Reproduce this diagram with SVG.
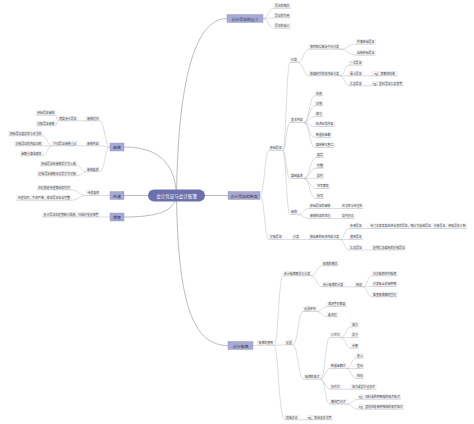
<svg xmlns="http://www.w3.org/2000/svg" width="474" height="424" viewBox="0 0 474 424">
<style>
.c{fill:#f5f5f7;stroke:#e1e1e6;stroke-width:.3}
.u{stroke:#b9b9c2;stroke-width:.5;fill:none}
text{font-family:"Noto Sans CJK SC","Noto Sans",sans-serif;text-anchor:middle;dominant-baseline:central}
.t{font-size:2.9px;fill:#444}
.m{fill:#a7a9d3;stroke:#8f92c2;stroke-width:.4}
.mt{font-size:3.9px;fill:#2d2d4a}
#conn path{fill:none;stroke:#b9b9c2;stroke-width:.5}
#conn path.k{stroke:#a9a9b8;stroke-width:.8}
</style>
<rect width="474" height="424" fill="#fff"/>
<g id="conn">
<path class="k" d="M176.5 195.5C178 80 195 18.5 227 18.5"/>
<path class="k" d="M176.5 195.5L228 195.5"/>
<path class="k" d="M176.5 195.5C178 310 195 345.5 228 345.5"/>
<path class="k" d="M176.5 195.5C175 160 155 147 124 147"/>
<path class="k" d="M176.5 195.5L124 195.5"/>
<path class="k" d="M176.5 195.5C175 212 155 217 124 217"/>
<path d="M263 18.5C268.5 18.5 268.5 8.3 274 8.3M263 18.5C268.5 18.5 268.5 17.9 274 17.9M263 18.5C268.5 18.5 268.5 28.3 274 28.3"/>
<path d="M260 195.5C264.5 195.5 264.5 150.5 269 150.5M260 195.5C264.5 195.5 264.5 239.5 269 239.5"/>
<path d="M282.6 150.5C286.3 150.5 286.3 62.5 290 62.5M282.6 150.5C286.3 150.5 286.3 122.5 290 122.5M282.6 150.5C286.3 150.5 286.3 178.5 290 178.5M282.6 150.5C286.3 150.5 286.3 214.5 290 214.5"/>
<path d="M297.8 62.5C303.4 62.5 303.4 49.2 309 49.2M297.8 62.5C303.4 62.5 303.4 75.8 309 75.8"/>
<path d="M340 49.2C348 49.2 348 44.2 356 44.2M340 49.2C348 49.2 348 55.2 356 55.2"/>
<path d="M340 75.8C344.5 75.8 344.5 65.2 349 65.2M340 75.8L349 75.8M340 75.8C344.5 75.8 344.5 85.8 349 85.8M362.6 75.8L372 75.8M362.6 85.8L372 85.8"/>
<path d="M303.6 122.5C309.3 122.5 309.3 95.8 315 95.8M303.6 122.5C309.3 122.5 309.3 105.8 315 105.8M303.6 122.5C309.3 122.5 309.3 116.5 315 116.5M303.6 122.5C309.3 122.5 309.3 126.5 315 126.5M303.6 122.5C309.3 122.5 309.3 137.5 315 137.5M303.6 122.5C309.3 122.5 309.3 147.5 315 147.5"/>
<path d="M303.6 178.5C309.8 178.5 309.8 157.5 316 157.5M303.6 178.5C309.8 178.5 309.8 168.2 316 168.2M303.6 178.5C309.8 178.5 309.8 178.2 316 178.2M303.6 178.5C309.8 178.5 309.8 188.5 316 188.5M303.6 178.5C309.8 178.5 309.8 198.5 316 198.5"/>
<path d="M297.8 214.5C303.4 214.5 303.4 208.5 309 208.5M297.8 214.5C303.4 214.5 303.4 218.5 309 218.5M331.3 208.5L341 208.5M331.3 218.5L341 218.5"/>
<path d="M282.6 239.5L292 239.5M299.8 239.5L309 239.5M340 239.5C344.5 239.5 344.5 228.5 349 228.5M340 239.5L349 239.5M340 239.5C344.5 239.5 344.5 250 349 250M362.6 228.5L369 228.5M362.6 250L372 250"/>
<path d="M253 345.5L257.5 345.3M274 345.3C278.5 345.3 278.5 275.8 283 275.8M274 345.3C278.5 345.3 278.5 344.8 285 344.8M274 345.3C278.5 345.3 278.5 419.8 285 419.8"/>
<path d="M311.1 275.8C316.5 275.8 316.5 265.8 322 265.8M311.1 275.8C316.5 275.8 316.5 286.8 322 286.8M344.3 286.8L355 286.8M362.8 286.8C367.4 286.8 367.4 275.8 372 275.8M362.8 286.8C367.4 286.8 367.4 286.5 372 286.5M362.8 286.8C367.4 286.8 367.4 296.8 372 296.8"/>
<path d="M292.8 344.8C298 344.8 298 311.5 303 311.5M292.8 344.8C298 344.8 298 379.2 304 379.2M316.6 311.5C321.8 311.5 321.8 306.5 327 306.5M316.6 311.5C321.8 311.5 321.8 316.8 327 316.8"/>
<path d="M320.5 379.2C325.2 379.2 325.2 337.5 330 337.5M320.5 379.2C325.2 379.2 325.2 368.5 330 368.5M320.5 379.2C325.2 379.2 325.2 389.2 330 389.2M320.5 379.2C325.2 379.2 325.2 404.2 330 404.2"/>
<path d="M340.7 337.5C345.8 337.5 345.8 326.8 351 326.8M340.7 337.5L351 337.5M340.7 337.5C345.8 337.5 345.8 348.2 351 348.2M346.5 368.5C351.2 368.5 351.2 358.2 356 358.2M346.5 368.5L356 368.5M346.5 368.5C351.2 368.5 351.2 378.5 356 378.5M340.7 389.2L351 389.2M346.5 404.2C352.2 404.2 352.2 399.2 358 399.2M346.5 404.2C352.2 404.2 352.2 409.2 358 409.2M298.6 419.8L307 419.8"/>
<path d="M110 147C104.8 147 104.8 120.8 99.6 120.8M110 147C104.8 147 104.8 145.8 99.6 145.8M110 147C104.8 147 104.8 171.8 99.6 171.8M86 120.8L77.5 120.8M58.1 120.8C56.8 120.8 56.8 115.2 55.5 115.2M58.1 120.8C56.8 120.8 56.8 125.8 55.5 125.8"/>
<path d="M86 145.8L77.5 145.8M52.3 145.8C47.4 145.8 47.4 135.8 42.5 135.8M52.3 145.8L42.5 145.8M52.3 145.8C47.4 145.8 47.4 155.8 42.5 155.8M86 171.8C81.5 171.8 81.5 165.8 77 165.8M86 171.8C81.5 171.8 81.5 175.8 77 175.8"/>
<path d="M110 195.5L100 195.5M86.4 195.5C78.7 195.5 78.7 189.8 71 189.8M86.4 195.5C78.7 195.5 78.7 200.2 71 200.2M110 217L99.6 217"/>
</g>
<g id="center"><rect x="148" y="189.5" width="57" height="12" rx="6" fill="#6c70ae"/><text x="176.5" y="195.5" font-size="4.5" fill="#fff">会计凭证与会计账簿</text></g>
<g id="m1"><rect class="m" x="227" y="14.5" width="36" height="8"/><text class="mt" x="245" y="18.5">会计凭证的含义</text></g>
<g id="m2"><rect class="m" x="228" y="191.5" width="32" height="8"/><text class="mt" x="244" y="195.5">会计凭证的种类</text></g>
<g id="m3"><rect class="m" x="228" y="341.5" width="25" height="8"/><text class="mt" x="240.5" y="345.5">会计账簿</text></g>
<g id="l1"><rect class="m" x="110" y="143" width="14" height="8"/><text class="mt" x="117" y="147">审核</text></g>
<g id="l2"><rect class="m" x="110" y="191.5" width="14" height="8"/><text class="mt" x="117" y="195.5">传递</text></g>
<g id="l3"><rect class="m" x="110" y="213" width="14" height="8"/><text class="mt" x="117" y="217">保管</text></g>
<g id="t1"><rect class="c" x="274" y="3.7" width="16.5" height="4.6"/><path class="u" d="M274 8.3h16.5"/><text class="t" x="282.25" y="6">凭证的概念</text></g>
<g id="t2"><rect class="c" x="274" y="13.3" width="16.5" height="4.6"/><path class="u" d="M274 17.9h16.5"/><text class="t" x="282.25" y="15.6">凭证的作用</text></g>
<g id="t3"><rect class="c" x="274" y="23.7" width="16.5" height="4.6"/><path class="u" d="M274 28.3h16.5"/><text class="t" x="282.25" y="26">凭证的意义</text></g>
<g id="a"><rect class="c" x="269" y="145.9" width="13.6" height="4.6"/><path class="u" d="M269 150.5h13.6"/><text class="t" x="275.8" y="148.2">原始凭证</text></g>
<g id="b"><rect class="c" x="269" y="234.9" width="13.6" height="4.6"/><path class="u" d="M269 239.5h13.6"/><text class="t" x="275.8" y="237.2">记账凭证</text></g>
<g id="a1"><rect class="c" x="290" y="57.9" width="7.8" height="4.6"/><path class="u" d="M290 62.5h7.8"/><text class="t" x="293.9" y="60.2">分类</text></g>
<g id="a2"><rect class="c" x="290" y="117.9" width="13.6" height="4.6"/><path class="u" d="M290 122.5h13.6"/><text class="t" x="296.8" y="120.2">基本内容</text></g>
<g id="a3"><rect class="c" x="290" y="173.9" width="13.6" height="4.6"/><path class="u" d="M290 178.5h13.6"/><text class="t" x="296.8" y="176.2">填制要求</text></g>
<g id="a4"><rect class="c" x="290" y="209.9" width="7.8" height="4.6"/><path class="u" d="M290 214.5h7.8"/><text class="t" x="293.9" y="212.2">审核</text></g>
<g id="a1a"><rect class="c" x="309" y="44.6" width="31" height="4.6"/><path class="u" d="M309 49.2h31"/><text class="t" x="324.5" y="46.9">按照取得来源不同分类</text></g>
<g id="a1b"><rect class="c" x="309" y="71.2" width="31" height="4.6"/><path class="u" d="M309 75.8h31"/><text class="t" x="324.5" y="73.5">按填制手续和内容分类</text></g>
<g id="a1a1"><rect class="c" x="356" y="39.6" width="19.4" height="4.6"/><path class="u" d="M356 44.2h19.4"/><text class="t" x="365.7" y="41.9">外来原始凭证</text></g>
<g id="a1a2"><rect class="c" x="356" y="50.6" width="19.4" height="4.6"/><path class="u" d="M356 55.2h19.4"/><text class="t" x="365.7" y="52.9">自制原始凭证</text></g>
<g id="a1b1"><rect class="c" x="349" y="60.6" width="13.6" height="4.6"/><path class="u" d="M349 65.2h13.6"/><text class="t" x="355.8" y="62.9">一次凭证</text></g>
<g id="a1b2"><rect class="c" x="349" y="71.2" width="13.6" height="4.6"/><path class="u" d="M349 75.8h13.6"/><text class="t" x="355.8" y="73.5">累计凭证</text></g>
<g id="a1b2a"><rect class="c" x="372" y="71.2" width="25.5" height="4.6"/><path class="u" d="M372 75.8h25.5"/><text class="t" x="384.75" y="73.5">eg：限额领料单</text></g>
<g id="a1b3"><rect class="c" x="349" y="81.2" width="13.6" height="4.6"/><path class="u" d="M349 85.8h13.6"/><text class="t" x="355.8" y="83.5">汇总凭证</text></g>
<g id="a1b3a"><rect class="c" x="372" y="81.2" width="31.3" height="4.6"/><path class="u" d="M372 85.8h31.3"/><text class="t" x="387.65" y="83.5">eg：发料凭证汇总表等</text></g>
<g id="a2a"><rect class="c" x="315" y="91.2" width="7.8" height="4.6"/><path class="u" d="M315 95.8h7.8"/><text class="t" x="318.9" y="93.5">名称</text></g>
<g id="a2b"><rect class="c" x="315" y="101.2" width="7.8" height="4.6"/><path class="u" d="M315 105.8h7.8"/><text class="t" x="318.9" y="103.5">日期</text></g>
<g id="a2c"><rect class="c" x="315" y="111.9" width="7.8" height="4.6"/><path class="u" d="M315 116.5h7.8"/><text class="t" x="318.9" y="114.2">编号</text></g>
<g id="a2d"><rect class="c" x="315" y="121.9" width="19.4" height="4.6"/><path class="u" d="M315 126.5h19.4"/><text class="t" x="324.7" y="124.2">经济业务内容</text></g>
<g id="a2e"><rect class="c" x="315" y="132.9" width="16.5" height="4.6"/><path class="u" d="M315 137.5h16.5"/><text class="t" x="323.25" y="135.2">数量和金额</text></g>
<g id="a2f"><rect class="c" x="315" y="142.9" width="19.4" height="4.6"/><path class="u" d="M315 147.5h19.4"/><text class="t" x="324.7" y="145.2">填制单位签章</text></g>
<g id="a3a"><rect class="c" x="316" y="152.9" width="7.8" height="4.6"/><path class="u" d="M316 157.5h7.8"/><text class="t" x="319.9" y="155.2">真实</text></g>
<g id="a3b"><rect class="c" x="316" y="163.6" width="7.8" height="4.6"/><path class="u" d="M316 168.2h7.8"/><text class="t" x="319.9" y="165.9">完整</text></g>
<g id="a3c"><rect class="c" x="316" y="173.6" width="7.8" height="4.6"/><path class="u" d="M316 178.2h7.8"/><text class="t" x="319.9" y="175.9">及时</text></g>
<g id="a3d"><rect class="c" x="316" y="183.9" width="13.6" height="4.6"/><path class="u" d="M316 188.5h13.6"/><text class="t" x="322.8" y="186.2">书写清楚</text></g>
<g id="a3e"><rect class="c" x="316" y="193.9" width="7.8" height="4.6"/><path class="u" d="M316 198.5h7.8"/><text class="t" x="319.9" y="196.2">规范</text></g>
<g id="a4a"><rect class="c" x="309" y="203.9" width="22.3" height="4.6"/><path class="u" d="M309 208.5h22.3"/><text class="t" x="320.15" y="206.2">原始凭证的审核</text></g>
<g id="a4a1"><rect class="c" x="341" y="203.9" width="22.3" height="4.6"/><path class="u" d="M341 208.5h22.3"/><text class="t" x="352.15" y="206.2">合法性与合理性</text></g>
<g id="a4b"><rect class="c" x="309" y="213.9" width="22.3" height="4.6"/><path class="u" d="M309 218.5h22.3"/><text class="t" x="320.15" y="216.2">审核结果的处理</text></g>
<g id="a4b1"><rect class="c" x="341" y="213.9" width="13.6" height="4.6"/><path class="u" d="M341 218.5h13.6"/><text class="t" x="347.8" y="216.2">及时更正</text></g>
<g id="b1"><rect class="c" x="292" y="234.9" width="7.8" height="4.6"/><path class="u" d="M292 239.5h7.8"/><text class="t" x="295.9" y="237.2">分类</text></g>
<g id="b1a"><rect class="c" x="309" y="234.9" width="31" height="4.6"/><path class="u" d="M309 239.5h31"/><text class="t" x="324.5" y="237.2">按反映的经济内容分类</text></g>
<g id="b1a1"><rect class="c" x="349" y="223.9" width="13.6" height="4.6"/><path class="u" d="M349 228.5h13.6"/><text class="t" x="355.8" y="226.2">专用凭证</text></g>
<g id="b1a1a"><rect class="c" x="369" y="223.9" width="97.7" height="4.6"/><path class="u" d="M369 228.5h97.7"/><text class="t" x="417.85" y="226.2">专门记录某类经济业务的凭证，细分为收款凭证、付款凭证、转账凭证三种</text></g>
<g id="b1a2"><rect class="c" x="349" y="234.9" width="13.6" height="4.6"/><path class="u" d="M349 239.5h13.6"/><text class="t" x="355.8" y="237.2">通用凭证</text></g>
<g id="b1a3"><rect class="c" x="349" y="245.4" width="13.6" height="4.6"/><path class="u" d="M349 250h13.6"/><text class="t" x="355.8" y="247.7">汇总凭证</text></g>
<g id="b1a3a"><rect class="c" x="372" y="245.4" width="33.9" height="4.6"/><path class="u" d="M372 250h33.9"/><text class="t" x="388.95" y="247.7">定期汇总编制的记账凭证</text></g>
<g id="c"><rect class="c" x="257.5" y="340.7" width="16.5" height="4.6"/><path class="u" d="M257.5 345.3h16.5"/><text class="t" x="265.75" y="343">账簿的使用</text></g>
<g id="c1"><rect class="c" x="283" y="271.2" width="28.1" height="4.6"/><path class="u" d="M283 275.8h28.1"/><text class="t" x="297.05" y="273.5">会计账簿概念与分类</text></g>
<g id="c1a"><rect class="c" x="322" y="261.2" width="16.5" height="4.6"/><path class="u" d="M322 265.8h16.5"/><text class="t" x="330.25" y="263.5">账簿的概念</text></g>
<g id="c1b"><rect class="c" x="322" y="282.2" width="22.3" height="4.6"/><path class="u" d="M322 286.8h22.3"/><text class="t" x="333.15" y="284.5">会计账簿的分类</text></g>
<g id="c1b1"><rect class="c" x="355" y="282.2" width="7.8" height="4.6"/><path class="u" d="M355 286.8h7.8"/><text class="t" x="358.9" y="284.5">用途</text></g>
<g id="c1b1a"><rect class="c" x="372" y="271.2" width="25.2" height="4.6"/><path class="u" d="M372 275.8h25.2"/><text class="t" x="384.6" y="273.5">日记账即序时账簿</text></g>
<g id="c1b1b"><rect class="c" x="372" y="281.9" width="25.2" height="4.6"/><path class="u" d="M372 286.5h25.2"/><text class="t" x="384.6" y="284.2">分类账含总账明细</text></g>
<g id="c1b1c"><rect class="c" x="372" y="292.2" width="25.2" height="4.6"/><path class="u" d="M372 296.8h25.2"/><text class="t" x="384.6" y="294.5">备查账簿辅助登记</text></g>
<g id="c2"><rect class="c" x="285" y="340.2" width="7.8" height="4.6"/><path class="u" d="M285 344.8h7.8"/><text class="t" x="288.9" y="342.5">设置</text></g>
<g id="c2a"><rect class="c" x="303" y="306.9" width="13.6" height="4.6"/><path class="u" d="M303 311.5h13.6"/><text class="t" x="309.8" y="309.2">设置原则</text></g>
<g id="c2a1"><rect class="c" x="327" y="301.9" width="19.4" height="4.6"/><path class="u" d="M327 306.5h19.4"/><text class="t" x="336.7" y="304.2">满足管理需要</text></g>
<g id="c2a2"><rect class="c" x="327" y="312.2" width="10.7" height="4.6"/><path class="u" d="M327 316.8h10.7"/><text class="t" x="332.35" y="314.5">要合理</text></g>
<g id="c2b"><rect class="c" x="304" y="374.6" width="16.5" height="4.6"/><path class="u" d="M304 379.2h16.5"/><text class="t" x="312.25" y="376.9">账簿的格式</text></g>
<g id="c2b1"><rect class="c" x="330" y="332.9" width="10.7" height="4.6"/><path class="u" d="M330 337.5h10.7"/><text class="t" x="335.35" y="335.2">三栏式</text></g>
<g id="c2b1a"><rect class="c" x="351" y="322.2" width="7.8" height="4.6"/><path class="u" d="M351 326.8h7.8"/><text class="t" x="354.9" y="324.5">借方</text></g>
<g id="c2b1b"><rect class="c" x="351" y="332.9" width="7.8" height="4.6"/><path class="u" d="M351 337.5h7.8"/><text class="t" x="354.9" y="335.2">贷方</text></g>
<g id="c2b1c"><rect class="c" x="351" y="343.6" width="7.8" height="4.6"/><path class="u" d="M351 348.2h7.8"/><text class="t" x="354.9" y="345.9">余额</text></g>
<g id="c2b2"><rect class="c" x="330" y="363.9" width="16.5" height="4.6"/><path class="u" d="M330 368.5h16.5"/><text class="t" x="338.25" y="366.2">数量金额式</text></g>
<g id="c2b2a"><rect class="c" x="356" y="353.6" width="7.8" height="4.6"/><path class="u" d="M356 358.2h7.8"/><text class="t" x="359.9" y="355.9">收入</text></g>
<g id="c2b2b"><rect class="c" x="356" y="363.9" width="7.8" height="4.6"/><path class="u" d="M356 368.5h7.8"/><text class="t" x="359.9" y="366.2">发出</text></g>
<g id="c2b2c"><rect class="c" x="356" y="373.9" width="7.8" height="4.6"/><path class="u" d="M356 378.5h7.8"/><text class="t" x="359.9" y="376.2">结存</text></g>
<g id="c2b3"><rect class="c" x="330" y="384.6" width="10.7" height="4.6"/><path class="u" d="M330 389.2h10.7"/><text class="t" x="335.35" y="386.9">多栏式</text></g>
<g id="c2b3a"><rect class="c" x="351" y="384.6" width="25.2" height="4.6"/><path class="u" d="M351 389.2h25.2"/><text class="t" x="363.6" y="386.9">借方或贷方设多栏</text></g>
<g id="c2b4"><rect class="c" x="330" y="399.6" width="16.5" height="4.6"/><path class="u" d="M330 404.2h16.5"/><text class="t" x="338.25" y="401.9">横线登记式</text></g>
<g id="c2b4a"><rect class="c" x="358" y="394.6" width="42.9" height="4.6"/><path class="u" d="M358 399.2h42.9"/><text class="t" x="379.45" y="396.9">eg：材料采购明细账的账页格式</text></g>
<g id="c2b4b"><rect class="c" x="358" y="404.6" width="45.8" height="4.6"/><path class="u" d="M358 409.2h45.8"/><text class="t" x="380.9" y="406.9">eg：其他应收款明细账的账页格式</text></g>
<g id="c3"><rect class="c" x="285" y="415.2" width="13.6" height="4.6"/><path class="u" d="M285 419.8h13.6"/><text class="t" x="291.8" y="417.5">错账更正</text></g>
<g id="c3a"><rect class="c" x="307" y="415.2" width="25.5" height="4.6"/><path class="u" d="M307 419.8h25.5"/><text class="t" x="319.75" y="417.5">eg：划线更正法等</text></g>
<g id="l1a"><rect class="c" x="86" y="116.2" width="13.6" height="4.6"/><path class="u" d="M86 120.8h13.6"/><text class="t" x="92.8" y="118.5">审核范围</text></g>
<g id="l1a1"><rect class="c" x="58.1" y="116.2" width="19.4" height="4.6"/><path class="u" d="M58.1 120.8h19.4"/><text class="t" x="67.8" y="118.5">两类会计凭证</text></g>
<g id="l1a1a"><rect class="c" x="36.1" y="110.6" width="19.4" height="4.6"/><path class="u" d="M36.1 115.2h19.4"/><text class="t" x="45.8" y="112.9">原始凭证审核</text></g>
<g id="l1a1b"><rect class="c" x="36.1" y="121.2" width="19.4" height="4.6"/><path class="u" d="M36.1 125.8h19.4"/><text class="t" x="45.8" y="123.5">记账凭证审核</text></g>
<g id="l1b"><rect class="c" x="86" y="141.2" width="13.6" height="4.6"/><path class="u" d="M86 145.8h13.6"/><text class="t" x="92.8" y="143.5">审核内容</text></g>
<g id="l1b1"><rect class="c" x="52.3" y="141.2" width="25.2" height="4.6"/><path class="u" d="M52.3 145.8h25.2"/><text class="t" x="64.9" y="143.5">不同凭证审核重点</text></g>
<g id="l1b1a"><rect class="c" x="8.6" y="131.2" width="33.9" height="4.6"/><path class="u" d="M8.6 135.8h33.9"/><text class="t" x="25.55" y="133.5">原始凭证真实性与合法性</text></g>
<g id="l1b1b"><rect class="c" x="14.4" y="141.2" width="28.1" height="4.6"/><path class="u" d="M14.4 145.8h28.1"/><text class="t" x="28.45" y="143.5">记账凭证的内容正确</text></g>
<g id="l1b1c"><rect class="c" x="20.2" y="151.2" width="22.3" height="4.6"/><path class="u" d="M20.2 155.8h22.3"/><text class="t" x="31.35" y="153.5">金额计算准确性</text></g>
<g id="l1c"><rect class="c" x="86" y="167.2" width="13.6" height="4.6"/><path class="u" d="M86 171.8h13.6"/><text class="t" x="92.8" y="169.5">审核要求</text></g>
<g id="l1c1"><rect class="c" x="40.2" y="161.2" width="36.8" height="4.6"/><path class="u" d="M40.2 165.8h36.8"/><text class="t" x="58.6" y="163.5">原始凭证经审核后方可入账</text></g>
<g id="l1c2"><rect class="c" x="37.3" y="171.2" width="39.7" height="4.6"/><path class="u" d="M37.3 175.8h39.7"/><text class="t" x="57.15" y="173.5">记账凭证审核无误后方可记账</text></g>
<g id="l2a"><rect class="c" x="86.4" y="190.9" width="13.6" height="4.6"/><path class="u" d="M86.4 195.5h13.6"/><text class="t" x="93.2" y="193.2">传递要求</text></g>
<g id="l2a1"><rect class="c" x="37.1" y="185.2" width="33.9" height="4.6"/><path class="u" d="M37.1 189.8h33.9"/><text class="t" x="54.05" y="187.5">合理确定传递路线和时间</text></g>
<g id="l2a2"><rect class="c" x="16.8" y="195.6" width="54.2" height="4.6"/><path class="u" d="M16.8 200.2h54.2"/><text class="t" x="43.9" y="197.9">传递及时，手续严密，保证凭证安全完整</text></g>
<g id="l3a"><rect class="c" x="42.5" y="212.4" width="57.1" height="4.6"/><path class="u" d="M42.5 217h57.1"/><text class="t" x="71.05" y="214.7">会计凭证应定期装订成册，归档并妥善保管</text></g>
</svg>
